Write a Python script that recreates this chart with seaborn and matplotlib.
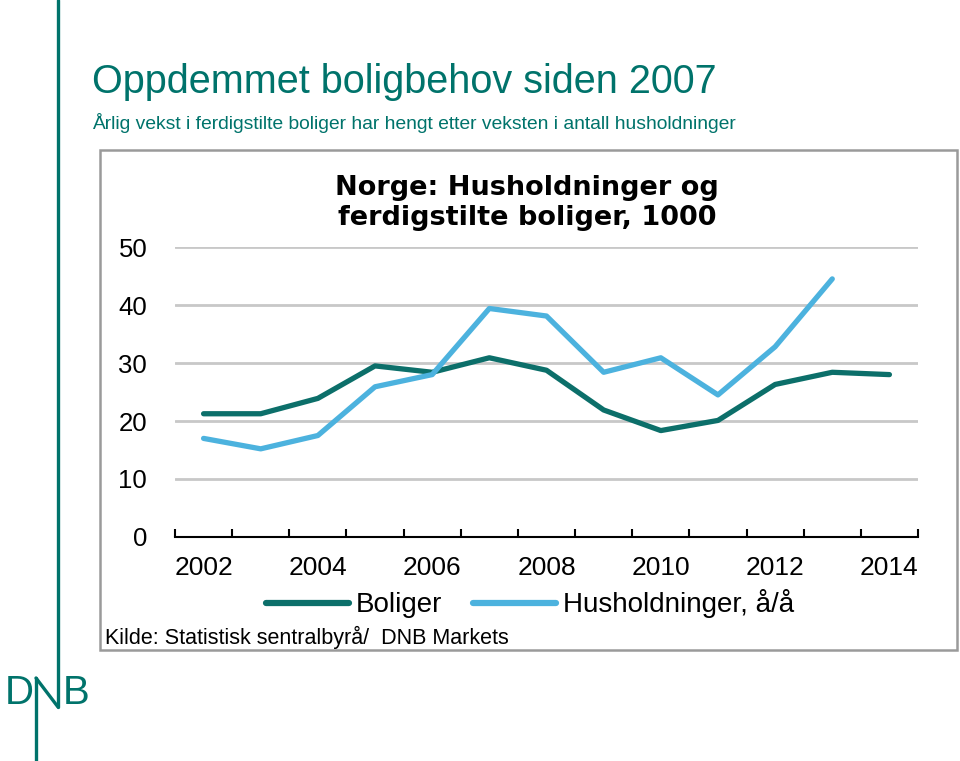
import numpy as np
import pandas as pd
import matplotlib
matplotlib.use("Agg")
import matplotlib.pyplot as plt
import seaborn as sns
from matplotlib.lines import Line2D
from matplotlib.patches import Rectangle

years_boliger = [2002, 2003, 2004, 2005, 2006, 2007, 2008, 2009, 2010, 2011, 2012, 2013, 2014]
boliger = [21.25, 21.25, 23.9, 29.5, 28.4, 30.9, 28.75, 21.9, 18.35, 20.1, 26.3, 28.4, 28.0]
years_hush = [2002, 2003, 2004, 2005, 2006, 2007, 2008, 2009, 2010, 2011, 2012, 2013]
husholdninger = [17.0, 15.2, 17.5, 25.9, 28.0, 39.4, 38.1, 28.4, 30.9, 24.5, 32.8, 44.5]
series_names = ["Boliger", "Husholdninger, å/å"]
year_labels = ["2002", "2004", "2006", "2008", "2010", "2012", "2014"]
y_ticks = [0, 10, 20, 30, 40, 50]

TEAL = "#0c6f6a"
BLUE = "#4cb2de"
TITLE = "#00736b"

df = pd.concat([
    pd.DataFrame({"År": years_boliger, "Verdi": boliger, "Serie": series_names[0]}),
    pd.DataFrame({"År": years_hush, "Verdi": husholdninger, "Serie": series_names[1]}),
])

sns.set_theme(style="white")
plt.rcParams["font.family"] = ["Liberation Sans", "DejaVu Sans"]
plt.rcParams["text.color"] = "black"

W, H = 960, 761
fig = plt.figure(figsize=(W / 100, H / 100), dpi=100)

def fx(px):
    return px / W

def fy(py):
    return 1 - py / H

ax = fig.add_axes([fx(175), fy(537), fx(918) - fx(175), fy(247) - fy(537)])
sns.lineplot(data=df, x="År", y="Verdi", hue="Serie", hue_order=series_names,
             palette=[TEAL, BLUE], linewidth=3.8, ax=ax, legend=False, sort=False)
for ln in ax.get_lines():
    ln.set_solid_capstyle("round")
    ln.set_solid_joinstyle("round")

ax.set_xlim(2001.5, 2014.5)
ax.set_ylim(0, 50)
ax.set_xlabel("")
ax.set_ylabel("")
ax.set_yticks(y_ticks)
ax.set_yticklabels([str(v) for v in y_ticks])
ax.set_xticks([int(y) for y in year_labels])
ax.set_xticklabels(year_labels)
ax.set_xticks(np.arange(2001.5, 2015.0, 1.0), minor=True)
ax.tick_params(axis="x", which="major", bottom=True, length=0, labelsize=19, pad=14, colors="black")
ax.tick_params(axis="x", which="minor", bottom=True, length=6, width=1.5, direction="in", color="black")
ax.tick_params(axis="y", length=0, labelsize=18.5, pad=20, colors="black")
ax.yaxis.grid(True, color="#c8c8c8", linewidth=2)
ax.set_axisbelow(True)
for s in ["top", "right", "left"]:
    ax.spines[s].set_visible(False)
ax.spines["bottom"].set_color("black")
ax.spines["bottom"].set_linewidth(1.5)
ax.spines["bottom"].set_zorder(5)

# Box around chart
fig.add_artist(Rectangle((fx(100), fy(650)), fx(957) - fx(100), fy(150) - fy(650),
                         transform=fig.transFigure, fill=False, edgecolor="#9a9a9a", linewidth=1.8))

# Chart title
fig.text(fx(527), fy(188), "Norge: Husholdninger og", ha="center", va="center",
         fontsize=19.5, fontweight="bold", color="black", family=["DejaVu Sans"])
fig.text(fx(527), fy(218), "ferdigstilte boliger, 1000", ha="center", va="center",
         fontsize=19.5, fontweight="bold", color="black", family=["DejaVu Sans"])

# Legend
handles = [Line2D([0], [0], color=TEAL, lw=4.5, solid_capstyle="round"),
           Line2D([0], [0], color=BLUE, lw=4.5, solid_capstyle="round")]
leg = fig.legend(handles, series_names, loc="center", bbox_to_anchor=(fx(530), fy(604)),
                 ncol=2, frameon=False, fontsize=20, handlelength=3.0, handletextpad=0.25,
                 columnspacing=1.1)
for t in leg.get_texts():
    t.set_color("black")

fig.text(fx(105), fy(637), "Kilde: Statistisk sentralbyrå/  DNB Markets", ha="left", va="center",
         fontsize=15.5, color="black")

# Slide title
fig.text(fx(92), fy(82), "Oppdemmet boligbehov siden 2007", ha="left", va="center",
         fontsize=28.5, color=TITLE)
fig.text(fx(92), fy(123), "Årlig vekst i ferdigstilte boliger har hengt etter veksten i antall husholdninger",
         ha="left", va="center", fontsize=13.9, color=TITLE)

# DNB logo and vertical line
lw = 2.4
fig.add_artist(Line2D([fx(58), fx(58)], [fy(0), fy(707)], transform=fig.transFigure, color=TITLE, lw=lw))
fig.add_artist(Line2D([fx(36), fx(58)], [fy(678), fy(707)], transform=fig.transFigure, color=TITLE, lw=lw))
fig.add_artist(Line2D([fx(36), fx(36)], [fy(678), fy(761)], transform=fig.transFigure, color=TITLE, lw=lw))
fig.text(fx(5), fy(693), "D", ha="left", va="center", fontsize=29, color=TITLE)
fig.text(fx(63), fy(693), "B", ha="left", va="center", fontsize=29, color=TITLE)

fig.savefig("out.png", dpi=100)
